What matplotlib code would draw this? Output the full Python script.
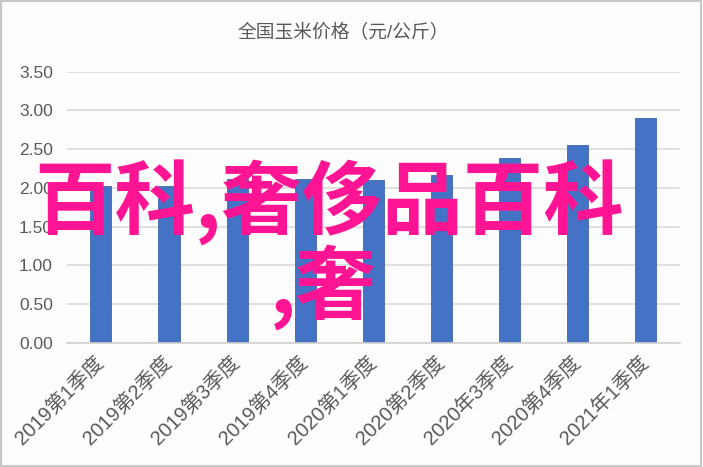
import matplotlib
matplotlib.use('Agg')
import matplotlib.pyplot as plt
from matplotlib.patches import Rectangle

plt.rcParams['font.family'] = ['Liberation Sans', 'Noto Sans CJK SC', 'DejaVu Sans']

# quarterly corn price, yuan/kg
quarters = ['2019第1季度', '2019第2季度', '2019第3季度', '2019第4季度',
            '2020第1季度', '2020第2季度', '2020年3季度', '2020第4季度',
            '2021年1季度']
prices = [2.03, 2.03, 2.11, 2.11, 2.10, 2.17, 2.39, 2.55, 2.90]
yticks = [0.0, 0.5, 1.0, 1.5, 2.0, 2.5, 3.0, 3.5]

title = '全国玉米价格（元/公斤）'
mark1 = '百科,奢侈品百科'
mark2 = ',奢'

grey = '#595959'

fig = plt.figure(figsize=(7.03, 4.67), dpi=100)
fig.patch.set_facecolor('#fdfdfe')
fig.patches.append(Rectangle((0.002, 0.003), 0.995, 0.994, transform=fig.transFigure,
                             fill=False, edgecolor='#c8c8c8', linewidth=1.5))

ax = fig.add_axes([0.095, 0.2655, 0.872, 0.581])
ax.set_facecolor('#fdfdfe')
x = range(len(quarters))
ax.bar(x, prices, width=0.31, color='#4472c4', edgecolor='#3f66b0', linewidth=0.6, zorder=2)

ax.set_xlim(-0.5, len(quarters) - 0.5)
ax.set_ylim(0, 3.5)
ax.set_yticks(yticks)
ax.set_yticklabels(['%.2f' % v for v in yticks], fontsize=12.5, color=grey)
ax.yaxis.grid(True, color='#d9d9d9', linewidth=1.2, zorder=0)
ax.tick_params(axis='both', length=0, pad=10)

ax.set_xticks(list(x))
ax.set_xticklabels(quarters, rotation=45, ha='right', va='center', rotation_mode='anchor',
                   fontsize=14.5, color=grey)
ax.tick_params(axis='x', pad=12)

for side in ['left', 'right', 'top']:
    ax.spines[side].set_visible(False)
ax.spines['bottom'].set_color('#d0d0d0')
ax.spines['bottom'].set_linewidth(1.2)

fig.text(0.488, 0.929, title, ha='center', va='center', fontsize=13.5, color=grey)

# pink overlay text
fig.text(0.468, 0.565, mark1, ha='center', va='center', fontsize=58,
         color='#ff1493', fontweight='bold', family=['Noto Sans CJK SC', 'DejaVu Sans'], zorder=10)
fig.text(0.46, 0.385, mark2, ha='center', va='center', fontsize=58,
         color='#ff1493', fontweight='bold', family=['Noto Sans CJK SC', 'DejaVu Sans'], zorder=10)

fig.savefig('out.png', dpi=100)
